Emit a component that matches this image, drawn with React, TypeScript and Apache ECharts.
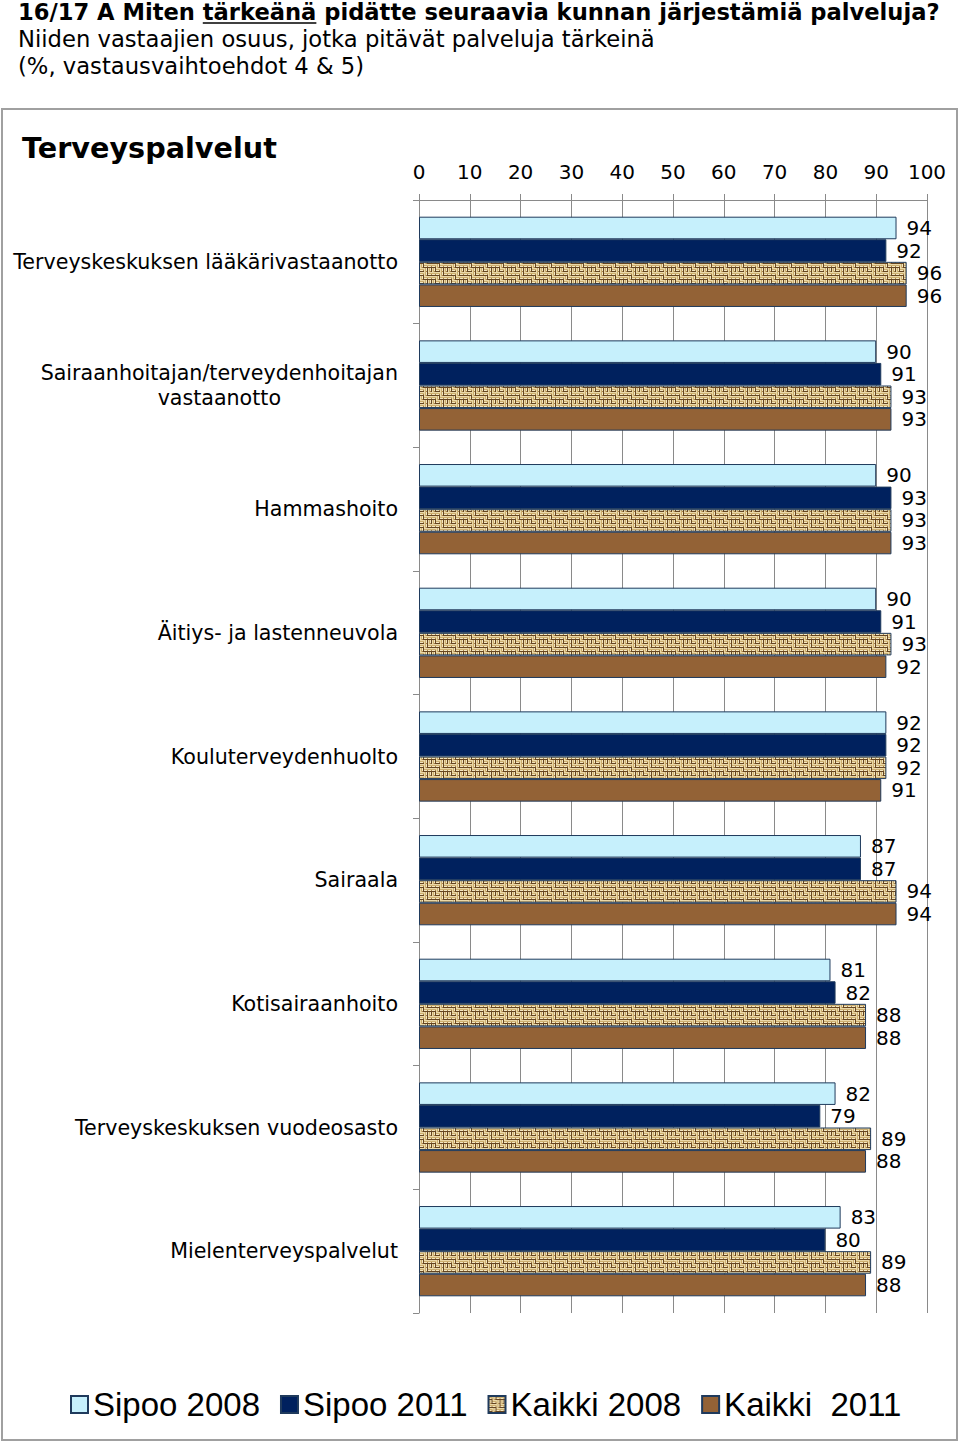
import React, { useEffect, useRef } from 'react';
import * as echarts from 'echarts';

const categories = [
  'Terveyskeskuksen lääkärivastaanotto',
  'Sairaanhoitajan/terveydenhoitajan\nvastaanotto',
  'Hammashoito',
  'Äitiys- ja lastenneuvola',
  'Kouluterveydenhuolto',
  'Sairaala',
  'Kotisairaanhoito',
  'Terveyskeskuksen vuodeosasto',
  'Mielenterveyspalvelut',
];
const seriesNames = ['Sipoo 2008', 'Sipoo 2011', 'Kaikki 2008', 'Kaikki  2011'];
const sipoo2008 = [94, 90, 90, 90, 92, 87, 81, 82, 83];
const sipoo2011 = [92, 91, 93, 91, 92, 87, 82, 79, 80];
const kaikki2008 = [96, 93, 93, 93, 92, 94, 88, 89, 89];
const kaikki2011 = [96, 93, 93, 92, 91, 94, 88, 88, 88];

const titleText = '16/17 A Miten tärkeänä pidätte seuraavia kunnan järjestämiä palveluja?';
const titlePrefix = '16/17 A Miten ';
const titleUnderlined = 'tärkeänä';
const subtitle1 = 'Niiden vastaajien osuus, jotka pitävät palveluja tärkeinä';
const subtitle2 = '(%, vastausvaihtoehdot 4 & 5)';
const sectionTitle = 'Terveyspalvelut';

const FONT = 'DejaVu Sans';

function measure(text: string, font: string): number {
  const c = document.createElement('canvas');
  const ctx = c.getContext('2d')!;
  ctx.font = font;
  return ctx.measureText(text).width;
}
function fit(text: string, weight: string, target: number, base: number): number {
  const w = measure(text, `${weight} ${base}px "${FONT}"`);
  return (base * target) / w;
}

// weave layout: 0 = horizontal threads, 1 = vertical threads
const weave = [
  [0, 1, 0, 0],
  [1, 0, 1, 1],
  [0, 0, 1, 0],
];

function makeBurlap(): string {
  const c = document.createElement('canvas');
  c.width = 16;
  c.height = 12;
  const g = c.getContext('2d')!;
  g.fillStyle = '#A8844A';
  g.fillRect(0, 0, 16, 12);
  for (let j = 0; j < weave.length; j++) {
    for (let i = 0; i < weave[j].length; i++) {
      const x = i * 4;
      const y = j * 4;
      if (weave[j][i] === 0) {
        g.fillStyle = '#EAD8A8';
        g.fillRect(x, y, 4, 1);
        g.fillStyle = '#CDAE6E';
        g.fillRect(x, y + 1, 4, 1);
        g.fillStyle = '#F3E6C0';
        g.fillRect(x, y + 2, 3, 1);
        g.fillStyle = '#654521';
        g.fillRect(x, y + 3, 4, 1);
      } else {
        g.fillStyle = '#EAD8A8';
        g.fillRect(x, y, 1, 4);
        g.fillStyle = '#CDAE6E';
        g.fillRect(x + 1, y, 1, 4);
        g.fillStyle = '#F3E6C0';
        g.fillRect(x + 2, y, 1, 3);
        g.fillStyle = '#654521';
        g.fillRect(x + 3, y, 1, 4);
      }
    }
  }
  return c.toDataURL();
}

export default function App() {
  const ref = useRef<HTMLDivElement>(null);
  useEffect(() => {
    if (!ref.current) return;
    const chart = echarts.init(ref.current, undefined, { renderer: 'svg' });

    const titleSize = fit(titleText, 'bold', 922, 22);
    const prefixW = measure(titlePrefix, `bold ${titleSize}px "${FONT}"`);
    const underW = measure(titleUnderlined, `bold ${titleSize}px "${FONT}"`);
    const subSize = fit(subtitle1, 'normal', 637, 22);
    const secSize = fit(sectionTitle, 'bold', 255, 30);
    const catSize = fit(categories[0], 'normal', 385, 19);

    const burlap = makeBurlap();
    const border = '#1F3A5C';
    const colors: any[] = [
      '#C6F0FC',
      '#00215E',
      { image: burlap, repeat: 'repeat', imageWidth: 16, imageHeight: 12 },
      '#936236',
    ];
    const dataSets = [sipoo2008, sipoo2011, kaikki2008, kaikki2011];

    const option: any = {
      animation: false,
      backgroundColor: '#fff',
      textStyle: { fontFamily: FONT },
      grid: { left: 419, top: 200, width: 508, height: 1113, containLabel: false },
      xAxis: {
        type: 'value',
        position: 'top',
        min: 0,
        max: 100,
        interval: 10,
        axisLine: { show: true, lineStyle: { color: '#8A8A8A', width: 1 } },
        axisTick: { show: true, length: 6, lineStyle: { color: '#8A8A8A' } },
        splitLine: { show: true, lineStyle: { color: '#8A8A8A', width: 1 } },
        axisLabel: { color: '#000', fontSize: 20, fontFamily: FONT, margin: 18 },
      },
      yAxis: {
        type: 'category',
        inverse: true,
        data: categories,
        axisLine: { show: true, lineStyle: { color: '#8A8A8A', width: 1 } },
        axisTick: { show: true, length: 6, lineStyle: { color: '#8A8A8A' } },
        axisLabel: {
          margin: 21,
          formatter: (v: string) => v.split('\n').map((s) => `{c|${s}}`).join('\n'),
          rich: {
            c: { align: 'center', fontSize: catSize, fontFamily: FONT, color: '#000', lineHeight: 25 },
          },
        },
      },
      legend: {
        left: 70,
        top: 1388,
        padding: 0,
        itemWidth: 17,
        itemHeight: 17,
        itemGap: 20,
        icon: 'rect',
        data: seriesNames,
        textStyle: { fontFamily: 'Liberation Sans Narrow, Liberation Sans', fontSize: 33, color: '#000' },
      },
      series: seriesNames.map((name, i) => ({
        name,
        type: 'bar',
        data: dataSets[i],
        barGap: '0%',
        barCategoryGap: '27%',
        itemStyle: { color: colors[i], borderColor: border, borderWidth: 1 },
        label: {
          show: true,
          position: 'right',
          distance: 10,
          color: '#000',
          fontSize: 20,
          fontFamily: FONT,
        },
      })),
      graphic: [
        {
          type: 'rect',
          z: -10,
          shape: { x: 2, y: 109, width: 955, height: 1331 },
          style: { fill: 'none', stroke: '#A0A0A0', lineWidth: 2 },
        },
        {
          type: 'text',
          x: 18,
          y: 12,
          style: {
            text: titleText,
            font: `bold ${titleSize}px "${FONT}"`,
            fill: '#000',
            verticalAlign: 'middle',
          },
        },
        {
          type: 'line',
          shape: { x1: 18 + prefixW, y1: 23, x2: 18 + prefixW + underW, y2: 23 },
          style: { stroke: '#000', lineWidth: 1.5 },
        },
        {
          type: 'text',
          x: 18,
          y: 39,
          style: { text: subtitle1, font: `${subSize}px "${FONT}"`, fill: '#000', verticalAlign: 'middle' },
        },
        {
          type: 'text',
          x: 18,
          y: 66,
          style: { text: subtitle2, font: `${subSize}px "${FONT}"`, fill: '#000', verticalAlign: 'middle' },
        },
        {
          type: 'text',
          x: 22,
          y: 148,
          style: { text: sectionTitle, font: `bold ${secSize}px "${FONT}"`, fill: '#000', verticalAlign: 'middle' },
        },
      ],
    };
    chart.setOption(option);
    return () => chart.dispose();
  }, []);
  return (
    <div
      ref={ref}
      style={{ position: 'absolute', left: 0, top: 0, width: 960, height: 1444 }}
    />
  );
}
